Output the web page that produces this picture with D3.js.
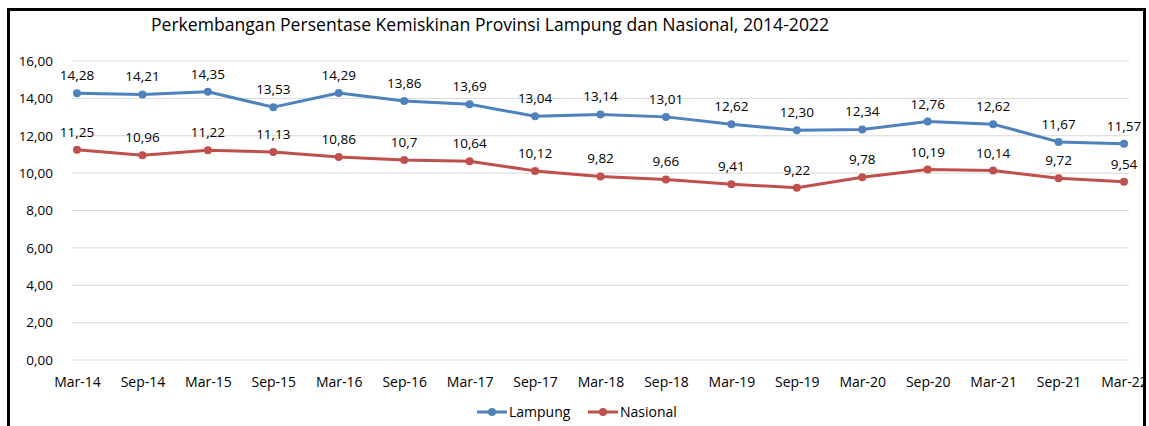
<!DOCTYPE html>
<html>
<head>
<meta charset="utf-8">
<script src="https://cdn.jsdelivr.net/npm/d3@7"></script>
<style>
  body { margin: 0; background: #fff; }
  text { font-family: "Open Sans", sans-serif; fill: #000; }
</style>
</head>
<body>
<svg id="chart" width="1149" height="426"></svg>
<script>
// data
const periods = ["Mar-14","Sep-14","Mar-15","Sep-15","Mar-16","Sep-16","Mar-17","Sep-17","Mar-18",
                 "Sep-18","Mar-19","Sep-19","Mar-20","Sep-20","Mar-21","Sep-21","Mar-22"];
const lampung = [14.28,14.21,14.35,13.53,14.29,13.86,13.69,13.04,13.14,13.01,12.62,12.30,12.34,12.76,12.62,11.67,11.57];
const nasional = [11.25,10.96,11.22,11.13,10.86,10.70,10.64,10.12,9.82,9.66,9.41,9.22,9.78,10.19,10.14,9.72,9.54];
const yTicks = [0,2,4,6,8,10,12,14,16];

const series = [
    {name: "Lampung", values: lampung, color: "#4F81BD", fmt: v => v.toFixed(2).replace(".", ",")},
    {name: "Nasional", values: nasional, color: "#C0504D", fmt: v => String(v).replace(".", ",")}
];

const svg = d3.select("#chart");
const plot = {left: 72, right: 1129, top: 61, bottom: 360};

const x = d3.scalePoint().domain(periods).range([77, 1124]);
const y = d3.scaleLinear().domain([0, 16]).range([plot.bottom, plot.top]);

//title
svg.append("text")
    .attr("x", 490).attr("y", 31)
    .attr("text-anchor", "middle")
    .style("font-size", "17.6px")
    .text("Perkembangan Persentase Kemiskinan Provinsi Lampung dan Nasional, 2014-2022");

//gridlines
svg.append("g").selectAll("line").data(yTicks).join("line")
    .attr("x1", plot.left).attr("x2", plot.right)
    .attr("y1", d => y(d)).attr("y2", d => y(d))
    .attr("stroke", "#d9d9d9").attr("stroke-width", 1);

//y axis
const yAxis = svg.append("g")
    .attr("transform", `translate(${plot.left - 16},0)`)
    .call(d3.axisLeft(y).tickValues(yTicks).tickSize(0).tickFormat(d => d3.format(".2f")(d).replace(".", ",")));
yAxis.select(".domain").remove();
yAxis.selectAll("text").style("font-size", "13.5px").style("font-family", "'Open Sans', sans-serif").attr("fill", "#000");

//x axis
const xAxis = svg.append("g")
    .attr("transform", `translate(0,${plot.bottom + 14})`)
    .call(d3.axisBottom(x).tickSize(0));
xAxis.select(".domain").remove();
xAxis.selectAll("text").style("font-size", "14px").style("font-family", "'Open Sans', sans-serif").attr("fill", "#000").attr("dy", "0.71em");

//lines, markers, labels
const line = d3.line().x((d, i) => x(periods[i])).y(d => y(d));

series.forEach(s => {
    const g = svg.append("g");
    g.append("path")
        .datum(s.values)
        .attr("d", line)
        .attr("fill", "none")
        .attr("stroke", s.color)
        .attr("stroke-width", 3)
        .attr("stroke-linejoin", "round");
    g.selectAll("circle").data(s.values).join("circle")
        .attr("cx", (d, i) => x(periods[i]))
        .attr("cy", d => y(d))
        .attr("r", 4)
        .attr("fill", s.color);
    g.selectAll("text").data(s.values).join("text")
        .attr("x", (d, i) => x(periods[i]))
        .attr("y", d => y(d) - 13)
        .attr("text-anchor", "middle")
        .style("font-size", "13.5px")
        .text(d => s.fmt(d));
});

//legend
const legend = svg.append("g").attr("transform", "translate(477,412)");
const legendX = [0, 111];
series.forEach((s, i) => {
    const lg = legend.append("g").attr("transform", `translate(${legendX[i]},0)`);
    lg.append("line").attr("x1", 0).attr("x2", 30).attr("y1", 0).attr("y2", 0)
        .attr("stroke", s.color).attr("stroke-width", 3);
    lg.append("circle").attr("cx", 15).attr("cy", 0).attr("r", 4).attr("fill", s.color);
    lg.append("text").attr("x", 32).attr("y", 5).style("font-size", "14px").text(s.name);
});

//frame (clips the last tick label like the original)
svg.append("rect").attr("x", 1146).attr("y", 0).attr("width", 10).attr("height", 426).attr("fill", "#fff");
svg.append("path")
    .attr("d", "M8.5,426 V9.5 H1144.5 V426")
    .attr("fill", "none").attr("stroke", "#000").attr("stroke-width", 3);
</script>
</body>
</html>
